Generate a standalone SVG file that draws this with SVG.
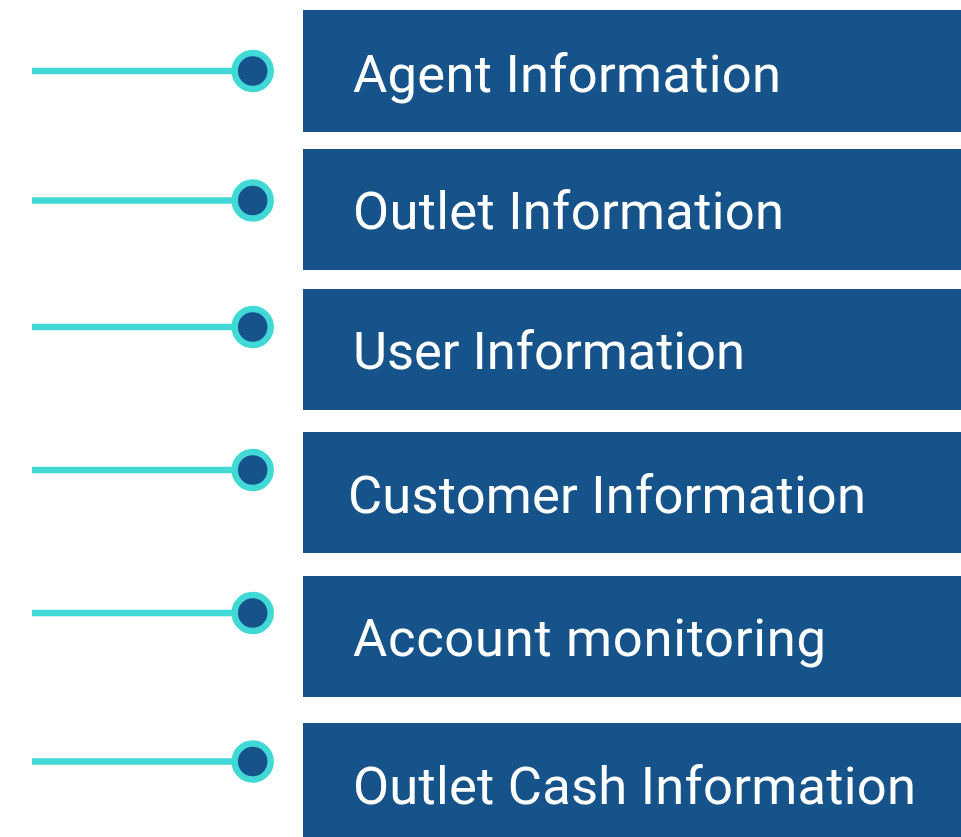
<svg xmlns="http://www.w3.org/2000/svg" width="961" height="837" viewBox="0 0 961 837">
<style>
.box{fill:#16538A}
.lbl{fill:#ffffff;font-family:Roboto,"Liberation Sans",sans-serif;font-size:52.5px}
.ln{stroke:#40D9D6;stroke-width:6.5;fill:none}
.dot{fill:#16538A;stroke:#40D9D6;stroke-width:6.5}
</style>
<rect width="961" height="837" fill="#ffffff"/>
<g id="connectors">
<line class="ln" x1="32" y1="71" x2="240" y2="71"/>
<line class="ln" x1="32" y1="200.5" x2="240" y2="200.5"/>
<line class="ln" x1="32" y1="327" x2="240" y2="327"/>
<line class="ln" x1="32" y1="470" x2="240" y2="470"/>
<line class="ln" x1="32" y1="613" x2="240" y2="613"/>
<line class="ln" x1="32" y1="761.5" x2="240" y2="761.5"/>
</g>
<g id="dot1"><circle class="dot" cx="252.7" cy="71" r="18"/></g>
<g id="dot2"><circle class="dot" cx="252.7" cy="200.5" r="18"/></g>
<g id="dot3"><circle class="dot" cx="252.7" cy="327" r="18"/></g>
<g id="dot4"><circle class="dot" cx="252.7" cy="470" r="18"/></g>
<g id="dot5"><circle class="dot" cx="252.7" cy="613" r="18"/></g>
<g id="dot6"><circle class="dot" cx="252.7" cy="761.5" r="18"/></g>
<g id="node1"><rect class="box" x="303" y="10" width="658" height="122"/><text class="lbl" x="353" y="92" textLength="428" lengthAdjust="spacing">Agent Information</text></g>
<g id="node2"><rect class="box" x="303" y="149" width="658" height="121"/><text class="lbl" x="353" y="229" textLength="431" lengthAdjust="spacing">Outlet Information</text></g>
<g id="node3"><rect class="box" x="303" y="289" width="658" height="121"/><text class="lbl" x="353" y="369" textLength="392" lengthAdjust="spacing">User Information</text></g>
<g id="node4"><rect class="box" x="303" y="432" width="658" height="121"/><text class="lbl" x="348" y="513" textLength="518" lengthAdjust="spacing">Customer Information</text></g>
<g id="node5"><rect class="box" x="303" y="576" width="658" height="121"/><text class="lbl" x="353" y="656" textLength="473" lengthAdjust="spacing">Account monitoring</text></g>
<g id="node6"><rect class="box" x="303" y="723" width="658" height="114"/><text class="lbl" x="353" y="804" textLength="563" lengthAdjust="spacing">Outlet Cash Information</text></g>
</svg>
